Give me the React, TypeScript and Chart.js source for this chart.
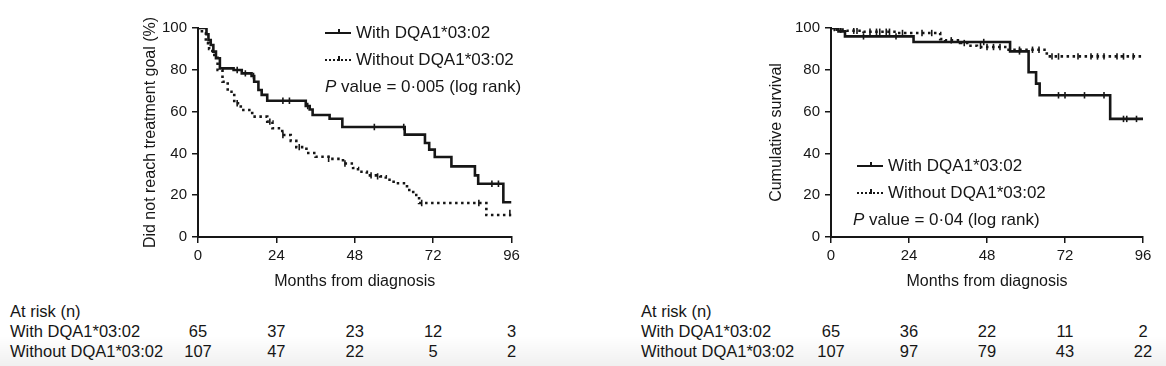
import React, { useEffect, useRef } from "react";
import { Chart, registerables } from "chart.js";

Chart.register(...registerables);

// ---------- data ----------
const xTicks = [0, 24, 48, 72, 96];
const yTicks = [0, 20, 40, 60, 80, 100];

const groupLabels = ["With DQA1*03:02", "Without DQA1*03:02"];

// Left panel: did not reach treatment goal (%)
const leftWithMonths = [0, 2.6, 3.2, 3.9, 4.7, 5.5, 6.7, 10.9, 13.4, 16.4, 17.2, 18.5, 19.5, 21.2, 33, 34.2, 35.1, 40.3, 44.2, 63.3, 69.5, 70.8, 72.5, 77.6, 84.8, 85.8, 93.5, 96];
const leftWithValues = [100, 97, 94.2, 91.9, 88.7, 85.5, 80.7, 79.9, 78.3, 77, 74.3, 70.3, 68, 65.2, 62.7, 61, 58.4, 56.6, 52.6, 49, 45, 41.8, 38.3, 33.8, 29.5, 25.5, 16.6, 16.6];
const leftWithCensorMonths = [12, 14.5, 17, 26, 28, 33.6, 54, 63, 90, 92];
const leftWithCensorValues = [79.9, 78.3, 77, 65.2, 65.2, 62.7, 52.6, 52.6, 25.5, 25.5];

const leftWithoutMonths = [0, 1.2, 2.4, 3.4, 4.4, 6, 7.5, 9.1, 11.1, 13.1, 16.6, 21.2, 22.8, 25.8, 28.4, 30.1, 33.2, 36, 40.4, 44.4, 47.5, 49, 51.7, 55.8, 57.5, 59.9, 64, 65.9, 67.7, 88.3, 96];
const leftWithoutValues = [100, 97.5, 92.7, 90, 87.1, 79.9, 74.3, 69.5, 64, 60.8, 57.6, 55.2, 52, 48.8, 46, 43, 40.2, 38.4, 37.4, 35.2, 33, 31.2, 29.5, 29, 27.4, 25.7, 22.5, 20.1, 16.3, 10.5, 10.5];
const leftWithoutCensorMonths = [12, 22, 26, 31, 40, 45, 53, 55, 68.5, 86, 95.5];
const leftWithoutCensorValues = [64, 55.2, 48.8, 43, 37.4, 35.2, 29.5, 29, 16.3, 16.3, 11.5];

// Right panel: cumulative survival
const rightWithMonths = [0, 2.3, 4.3, 25.4, 55.1, 60.8, 63.1, 64.2, 85.9, 96];
const rightWithValues = [100, 98.4, 96, 93.3, 88.8, 78.8, 73.4, 67.8, 56.5, 56.5];
const rightWithCensorMonths = [1, 10, 20, 47, 58, 70, 72, 78, 84, 90, 91, 94];
const rightWithCensorValues = [100, 96, 96, 93.3, 88.8, 67.8, 67.8, 67.8, 67.8, 56.5, 56.5, 56.5];

const rightWithoutMonths = [0, 1.2, 4.8, 10, 20, 33.6, 35.1, 39.7, 42.3, 44.9, 54.1, 66.4, 96];
const rightWithoutValues = [100, 99.2, 98.7, 98.2, 97.6, 94.7, 94.1, 92.8, 91.5, 90.9, 89.6, 86.4, 86.4];
const rightWithoutCensorMonths = [3, 7, 8, 12, 14, 15, 17, 18, 22, 28, 31, 37, 41, 46, 48, 50, 52, 58, 62, 64, 68, 70, 76, 80, 82, 84, 88, 90, 93];
const rightWithoutCensorValues = [99.2, 98.7, 98.7, 98.2, 98.2, 98.2, 98.2, 98.2, 97.6, 97.6, 97.6, 94.1, 92.8, 91.5, 90.9, 90.9, 90.9, 89.6, 89.6, 89.6, 86.4, 86.4, 86.4, 86.4, 86.4, 86.4, 86.4, 86.4, 86.4];

// At-risk table
const leftRiskWith = [65, 37, 23, 12, 3];
const leftRiskWithout = [107, 47, 22, 5, 2];
const rightRiskWith = [65, 36, 22, 11, 2];
const rightRiskWithout = [107, 97, 79, 43, 22];

const leftPValue = "0·005";
const rightPValue = "0·04";

// ---------- styling ----------
const FONT = "'Liberation Sans', Arial, Helvetica, sans-serif";
const INK = "#161616";

Chart.defaults.font.family = FONT;

const toPts = (xs: number[], ys: number[]) => xs.map((x, i) => ({ x, y: ys[i] }));

type Panel = {
  yTitle: string;
  yAxisWidth: number;
  withM: number[];
  withV: number[];
  withCM: number[];
  withCV: number[];
  withoutM: number[];
  withoutV: number[];
  withoutCM: number[];
  withoutCV: number[];
};

function KMChart({ left, top, width, height, padLeft, padRight, panel }: { left: number; top: number; width: number; height: number; padLeft: number; padRight: number; panel: Panel }) {
  const ref = useRef<HTMLCanvasElement | null>(null);
  useEffect(() => {
    if (!ref.current) return;
    const lineBase = {
      stepped: "before" as const,
      borderColor: INK,
      pointRadius: 0,
      fill: false,
      tension: 0,
    };
    const censorBase = {
      showLine: false,
      pointStyle: "line" as const,
      pointRotation: 90,
      pointRadius: 3.2,
      pointBorderWidth: 1.6,
      pointBorderColor: INK,
      borderColor: INK,
    };
    const chart = new Chart(ref.current, {
      type: "line",
      data: {
        datasets: [
          { ...lineBase, label: groupLabels[0], data: toPts(panel.withM, panel.withV), borderWidth: 2.6 },
          { ...lineBase, label: groupLabels[1], data: toPts(panel.withoutM, panel.withoutV), borderWidth: 2.6, borderDash: [2.5, 3.5] },
          { ...censorBase, label: "c1", data: toPts(panel.withCM, panel.withCV) },
          { ...censorBase, label: "c2", data: toPts(panel.withoutCM, panel.withoutCV) },
        ],
      },
      options: {
        animation: false,
        responsive: false,
        devicePixelRatio: 1,
        layout: { padding: { left: padLeft, top: 18, right: padRight, bottom: 5 } },
        plugins: { legend: { display: false }, tooltip: { enabled: false } },
        scales: {
          x: {
            type: "linear",
            min: 0,
            max: 96,
            afterBuildTicks: (s: any) => {
              s.ticks = xTicks.map((v) => ({ value: v }));
            },
            afterFit: (s: any) => {
              s.height = 58;
            },
            ticks: { font: { size: 15 }, color: INK, padding: 4, maxRotation: 0 },
            grid: { drawOnChartArea: false, drawTicks: true, tickLength: 6, color: INK, lineWidth: 1.5 },
            border: { color: INK, width: 2 },
            title: { display: true, text: "Months from diagnosis", font: { size: 16 }, color: INK, padding: { top: 4, bottom: 4 } },
          },
          y: {
            type: "linear",
            min: 0,
            max: 100,
            afterBuildTicks: (s: any) => {
              s.ticks = yTicks.map((v) => ({ value: v }));
            },
            afterFit: (s: any) => {
              s.width = panel.yAxisWidth;
            },
            ticks: { font: { size: 15 }, color: INK, padding: 5 },
            grid: { drawOnChartArea: false, drawTicks: true, tickLength: 6, color: INK, lineWidth: 1.5 },
            border: { color: INK, width: 2 },
            title: { display: true, text: panel.yTitle, font: { size: 16 }, color: INK, padding: { top: 4, bottom: 4 } },
          },
        },
      },
    });
    return () => chart.destroy();
  }, []);
  return (
    <canvas
      ref={ref}
      width={width}
      height={height}
      style={{ position: "absolute", left, top, width, height }}
    />
  );
}

const textStyle: React.CSSProperties = {
  position: "absolute",
  fontFamily: FONT,
  fontSize: 16.5,
  lineHeight: "20px",
  height: 20,
  color: INK,
  whiteSpace: "nowrap",
};

const legendText: React.CSSProperties = { ...textStyle, fontSize: 17 };

function Sample({ x, y, dotted }: { x: number; y: number; dotted?: boolean }) {
  return (
    <div style={{ position: "absolute", left: x, top: y - 10, width: 26, height: 20 }}>
      <div
        style={{
          position: "absolute",
          left: 0,
          top: 9,
          width: 26,
          height: 0,
          borderTop: dotted ? `2.6px dotted ${INK}` : `2.6px solid ${INK}`,
        }}
      />
      <div style={{ position: "absolute", left: 13, top: 6, width: 1.6, height: 5, background: INK }} />
    </div>
  );
}

function Legend({ sx, tx, px, rows, p }: { sx: number; tx: number; px: number; rows: number[]; p: string }) {
  return (
    <>
      <Sample x={sx} y={rows[0]} />
      <div style={{ ...legendText, left: tx, top: rows[0] - 10 }}>{groupLabels[0]}</div>
      <Sample x={sx} y={rows[1]} dotted />
      <div style={{ ...legendText, left: tx, top: rows[1] - 10 }}>{groupLabels[1]}</div>
      <div style={{ ...legendText, left: px, top: rows[2] - 10 }}>
        <i>P</i> value = {p} (log rank)
      </div>
    </>
  );
}

const leftRows = [33, 60, 87];
const rightRows = [166, 193, 220];

function RiskTable({ labelX, tickX, withN, withoutN }: { labelX: number; tickX: number[]; withN: number[]; withoutN: number[] }) {
  const rowsY = [311, 331, 351];
  return (
    <>
      <div style={{ ...textStyle, left: labelX, top: rowsY[0] - 10 }}>At risk (n)</div>
      <div style={{ ...textStyle, left: labelX, top: rowsY[1] - 10 }}>{groupLabels[0]}</div>
      <div style={{ ...textStyle, left: labelX, top: rowsY[2] - 10 }}>{groupLabels[1]}</div>
      {withN.map((n, i) => (
        <div key={"a" + i} style={{ ...textStyle, left: tickX[i] - 30, width: 60, textAlign: "center", top: rowsY[1] - 10 }}>
          {n}
        </div>
      ))}
      {withoutN.map((n, i) => (
        <div key={"b" + i} style={{ ...textStyle, left: tickX[i] - 30, width: 60, textAlign: "center", top: rowsY[2] - 10 }}>
          {n}
        </div>
      ))}
    </>
  );
}

const leftPanel: Panel = {
  yTitle: "Did not reach treatment goal (%)",
  yAxisWidth: 61,
  withM: leftWithMonths,
  withV: leftWithValues,
  withCM: leftWithCensorMonths,
  withCV: leftWithCensorValues,
  withoutM: leftWithoutMonths,
  withoutV: leftWithoutValues,
  withoutCM: leftWithoutCensorMonths,
  withoutCV: leftWithoutCensorValues,
};

const rightPanel: Panel = {
  yTitle: "Cumulative survival",
  yAxisWidth: 68,
  withM: rightWithMonths,
  withV: rightWithValues,
  withCM: rightWithCensorMonths,
  withCV: rightWithCensorValues,
  withoutM: rightWithoutMonths,
  withoutV: rightWithoutValues,
  withoutCM: rightWithoutCensorMonths,
  withoutCV: rightWithoutCensorValues,
};

const tickPositions = (l: number, r: number) => xTicks.map((v) => l + ((r - l) * v) / 96);

export default function App() {
  return (
    <div style={{ position: "absolute", left: 0, top: 0, width: 1166, height: 366, background: "#fff", overflow: "hidden" }}>
      <div
        style={{
          position: "absolute",
          left: 0,
          top: 336,
          width: 1166,
          height: 30,
          background: "linear-gradient(to bottom, rgba(0,0,0,0), rgba(0,0,0,0.06))",
        }}
      />
      <KMChart left={130} top={10} width={400} height={290} padLeft={7} padRight={18.5} panel={leftPanel} />
      <KMChart left={756} top={10} width={405} height={290} padLeft={7} padRight={18} panel={rightPanel} />
      <Legend sx={325} tx={356} px={325} rows={leftRows} p={leftPValue} />
      <Legend sx={857} tx={888} px={853} rows={rightRows} p={rightPValue} />
      <RiskTable labelX={10} tickX={tickPositions(198, 511.5)} withN={leftRiskWith} withoutN={leftRiskWithout} />
      <RiskTable labelX={641} tickX={tickPositions(831, 1143)} withN={rightRiskWith} withoutN={rightRiskWithout} />
    </div>
  );
}
